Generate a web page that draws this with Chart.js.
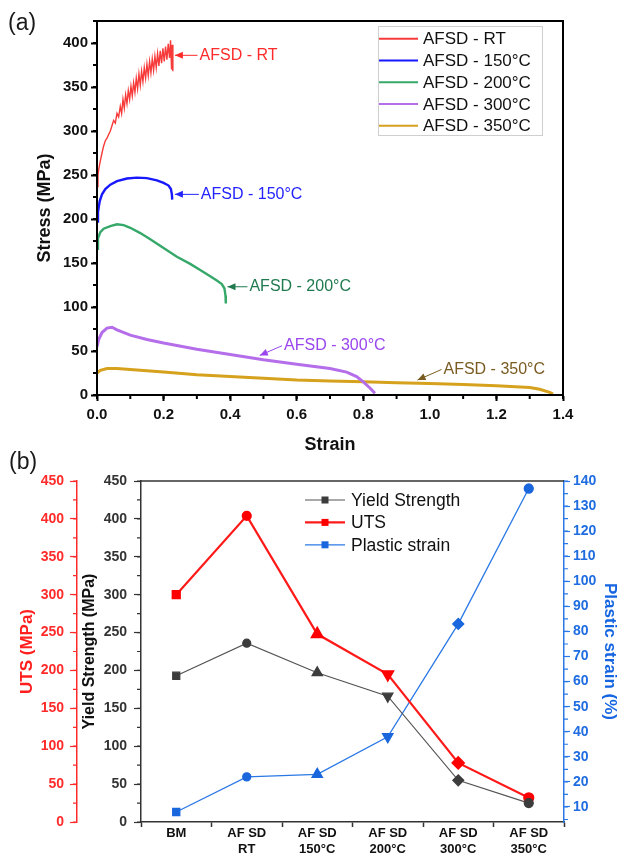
<!DOCTYPE html>
<html>
<head>
<meta charset="utf-8">
<script src="https://cdn.jsdelivr.net/npm/chart.js@4.4.1/dist/chart.umd.min.js"></script>
<style>
  html, body { margin: 0; padding: 0; background: #fff; }
  body { width: 618px; height: 857px; position: relative; overflow: hidden; font-family: Arial, "Liberation Sans", sans-serif; }
  #stressChart { position: absolute; left: 0; top: 0; }
  #propsChart { position: absolute; left: 0; top: 440px; }
  .panel-tag { position: absolute; font-size: 23px; line-height: 1; color: #1a1a1a; }
</style>
</head>
<body>
<canvas id="stressChart" width="618" height="460"></canvas>
<canvas id="propsChart" width="618" height="417"></canvas>
<div class="panel-tag" style="left:8px; top:11px;">(a)</div>
<div class="panel-tag" style="left:9px; top:450px;">(b)</div>
<script>
/* (a) stress-strain curves, [strain, stress MPa] */

const curveRT = [
  [0, 237], [0.003, 250], [0.006, 258], [0.01, 266], [0.015, 275], [0.02, 283],
  [0.025, 289], [0.03, 292], [0.035, 296], [0.04, 300], [0.045, 306], [0.05, 312],
  [0.055, 309], [0.06, 320], [0.065, 316], [0.07, 328], [0.074, 320], [0.078, 336],
  [0.082, 326], [0.086, 341], [0.09, 331], [0.094, 346], [0.098, 336], [0.102, 351],
  [0.106, 340], [0.11, 355], [0.114, 344], [0.118, 360], [0.122, 348], [0.126, 365],
  [0.13, 352], [0.134, 368], [0.138, 356], [0.142, 372], [0.146, 360], [0.15, 376],
  [0.154, 363], [0.158, 379], [0.162, 366], [0.166, 382], [0.17, 369], [0.174, 385],
  [0.178, 372], [0.182, 388], [0.186, 374], [0.19, 391], [0.194, 377], [0.198, 394],
  [0.202, 379], [0.206, 396], [0.21, 381], [0.214, 399], [0.218, 383], [0.221, 403],
  [0.224, 370], [0.226, 398], [0.228, 368]
];
const curve150 = [
  [0, 197], [0.003, 208], [0.008, 220], [0.015, 228], [0.025, 234], [0.04, 239],
  [0.06, 243], [0.09, 246], [0.12, 247], [0.15, 246.5], [0.18, 244], [0.2, 241],
  [0.215, 238], [0.222, 234], [0.225, 228], [0.226, 222]
];
const curve200 = [
  [0, 166], [0.003, 178], [0.01, 185], [0.02, 189], [0.04, 192], [0.06, 194],
  [0.08, 193], [0.1, 190], [0.13, 184], [0.16, 177], [0.2, 167], [0.24, 157],
  [0.28, 149], [0.31, 142], [0.34, 135], [0.36, 130], [0.375, 126], [0.383, 121],
  [0.386, 113], [0.387, 104]
];
const curve300 = [
  [0, 55], [0.005, 63], [0.015, 71], [0.03, 76], [0.045, 77], [0.06, 74],
  [0.1, 68], [0.15, 63], [0.2, 59], [0.3, 52], [0.4, 46], [0.5, 40], [0.6, 35],
  [0.7, 30], [0.75, 26], [0.78, 21], [0.8, 15], [0.82, 8], [0.835, 2]
];
const curve350 = [
  [0, 25], [0.01, 28], [0.03, 30], [0.06, 30], [0.1, 29], [0.2, 26], [0.3, 23],
  [0.4, 21], [0.5, 19], [0.6, 17], [0.7, 16], [0.8, 15], [0.9, 14], [1.0, 13],
  [1.1, 12], [1.2, 10.5], [1.3, 8.5], [1.33, 6.5], [1.36, 3], [1.37, 1]
];
const curveLabels = ["AFSD - RT", "AFSD - 150°C", "AFSD - 200°C", "AFSD - 300°C", "AFSD - 350°C"];
const strainTicks = [0, 0.2, 0.4, 0.6, 0.8, 1.0, 1.2, 1.4];
const stressTicks = [0, 50, 100, 150, 200, 250, 300, 350, 400];

/* (b) mechanical properties per condition */

const conditions = ["BM", ["AF SD", "RT"], ["AF SD", "150°C"], ["AF SD", "200°C"], ["AF SD", "300°C"], ["AF SD", "350°C"]];
const yieldStrength = [193, 236, 197, 166, 55, 25];
const utsValues = [300, 404, 248, 195, 78, 32];
const plasticStrain = [8, 22, 23, 38, 83, 137];
const strengthTicks = [0, 50, 100, 150, 200, 250, 300, 350, 400, 450];
const plasticTicks = [10, 20, 30, 40, 50, 60, 70, 80, 90, 100, 110, 120, 130, 140];

const FONT = 'Arial, "Liberation Sans", sans-serif';
Chart.defaults.font.family = FONT;
Chart.defaults.animation = false;

function toPoints(curve) {
  return curve.map(([x, y]) => ({ x: x, y: y }));
}

function useTicks(values) {
  return function (scale) {
    scale.ticks = values.map((v) => ({ value: v }));
  };
}

/* short minor ticks between the major ones */
function minorTickPlugin(specs) {
  return {
    id: "minorTicks",
    afterDraw(chart) {
      const ctx = chart.ctx;
      specs.forEach((m) => {
        const s = chart.scales[m.id];
        ctx.save();
        ctx.strokeStyle = m.color;
        ctx.lineWidth = m.width;
        ctx.beginPath();
        for (let i = 0; i < 200; i++) {
          const v = m.from + i * m.step;
          if (v > s.max + 1e-9) break;
          if (v < s.min - 1e-9) continue;
          const p = s.getPixelForValue(v);
          if (s.position === "bottom") {
            ctx.moveTo(p, s.top);
            ctx.lineTo(p, s.top + m.len);
          } else if (s.position === "left") {
            ctx.moveTo(s.right, p);
            ctx.lineTo(s.right - m.len, p);
          } else {
            ctx.moveTo(s.left, p);
            ctx.lineTo(s.left + m.len, p);
          }
        }
        ctx.stroke();
        ctx.restore();
      });
    },
  };
}

/* ---------- panel (a) ---------- */

const curveColors = ["#f73b3b", "#1818ff", "#35a86a", "#b56ee9", "#d6a11c"];
const curveWidths = [1.4, 2.4, 2.4, 3, 3];

const callouts = [
  { text: "AFSD - RT", color: "#ff2a2a", tip: [0.234, 386], tail: [0.302, 386] },
  { text: "AFSD - 150°C", color: "#2323ff", tip: [0.234, 228], tail: [0.306, 228] },
  { text: "AFSD - 200°C", color: "#1f7a4f", tip: [0.392, 123], tail: [0.452, 123] },
  { text: "AFSD - 300°C", color: "#9a45ee", tip: [0.489, 45], tail: [0.556, 56] },
  { text: "AFSD - 350°C", color: "#7a5c22", tip: [0.963, 17], tail: [1.035, 29] },
];

const panelAExtras = {
  id: "panelAExtras",
  afterDraw(chart) {
    const ctx = chart.ctx;
    const ca = chart.chartArea;
    const xs = chart.scales.x;
    const ys = chart.scales.y;
    ctx.save();

    // frame
    ctx.strokeStyle = "#000";
    ctx.lineWidth = 2;
    ctx.strokeRect(ca.left, ca.top, ca.right - ca.left, ca.bottom - ca.top);

    // callouts with arrows
    ctx.font = "16px " + FONT;
    ctx.textBaseline = "middle";
    ctx.textAlign = "left";
    callouts.forEach((c) => {
      const tx = xs.getPixelForValue(c.tip[0]);
      const ty = ys.getPixelForValue(c.tip[1]);
      const lx = xs.getPixelForValue(c.tail[0]);
      const ly = ys.getPixelForValue(c.tail[1]);
      const ang = Math.atan2(ty - ly, tx - lx);
      ctx.strokeStyle = c.color;
      ctx.fillStyle = c.color;
      ctx.lineWidth = 1;
      ctx.beginPath();
      ctx.moveTo(lx, ly);
      ctx.lineTo(tx, ty);
      ctx.stroke();
      ctx.beginPath();
      ctx.moveTo(tx, ty);
      ctx.lineTo(tx - 8 * Math.cos(ang) + 3.5 * Math.sin(ang), ty - 8 * Math.sin(ang) - 3.5 * Math.cos(ang));
      ctx.lineTo(tx - 8 * Math.cos(ang) - 3.5 * Math.sin(ang), ty - 8 * Math.sin(ang) + 3.5 * Math.cos(ang));
      ctx.closePath();
      ctx.fill();
      ctx.fillText(c.text, lx + 2, ly);
    });

    // legend box
    const bx = ca.right - 185;
    const by = ca.top + 5;
    ctx.fillStyle = "#fff";
    ctx.fillRect(bx, by, 164, 109);
    ctx.strokeStyle = "#cfcfcf";
    ctx.lineWidth = 1;
    ctx.strokeRect(bx + 0.5, by + 0.5, 164, 109);
    ctx.font = "17px " + FONT;
    chart.data.datasets.forEach((ds, i) => {
      const y = by + 12.7 + i * 21.75;
      ctx.strokeStyle = ds.borderColor;
      ctx.lineWidth = 2;
      ctx.beginPath();
      ctx.moveTo(bx + 1, y);
      ctx.lineTo(bx + 40, y);
      ctx.stroke();
      ctx.fillStyle = "#111";
      ctx.fillText(ds.label, bx + 45, y + 1);
    });
    ctx.restore();
  },
};

new Chart(document.getElementById("stressChart"), {
  type: "line",
  data: {
    datasets: [curveRT, curve150, curve200, curve300, curve350].map((c, i) => ({
      label: curveLabels[i],
      data: toPoints(c),
      borderColor: curveColors[i],
      borderWidth: curveWidths[i],
      pointRadius: 0,
      tension: 0,
    })),
  },
  options: {
    responsive: false,
    animation: false,
    layout: { padding: { left: 0, right: 55, top: 21, bottom: 0 } },
    plugins: { legend: { display: false }, tooltip: { enabled: false } },
    scales: {
      x: {
        type: "linear",
        position: "bottom",
        min: 0,
        max: 1.4,
        bounds: "data",
        afterBuildTicks: useTicks(strainTicks),
        afterFit: (s) => { s.height = 65; },
        border: { color: "#000", width: 2 },
        grid: { drawOnChartArea: false, tickLength: 6, tickColor: "#000", tickWidth: 2 },
        ticks: {
          color: "#111",
          padding: 5,
          font: { size: 15, weight: "bold" },
          callback: (v) => Number(v).toFixed(1),
        },
        title: {
          display: true,
          text: "Strain",
          color: "#111",
          font: { size: 18, weight: "bold", lineHeight: 1 },
          padding: { top: 0, bottom: 6 },
        },
      },
      y: {
        type: "linear",
        position: "left",
        min: 0,
        max: 425,
        bounds: "data",
        afterBuildTicks: useTicks(stressTicks),
        afterFit: (s) => { s.width = 97; },
        border: { color: "#000", width: 2 },
        grid: { drawOnChartArea: false, tickLength: 6, tickColor: "#000", tickWidth: 2 },
        ticks: { color: "#111", padding: 3, font: { size: 15, weight: "bold" } },
        title: {
          display: true,
          text: "Stress (MPa)",
          color: "#111",
          font: { size: 18, weight: "bold", lineHeight: 1 },
          padding: { top: 36, bottom: 0 },
        },
      },
    },
  },
  plugins: [
    minorTickPlugin([
      { id: "x", from: 0, step: 0.1, len: 4, color: "#000", width: 2 },
      { id: "y", from: 0, step: 25, len: 4, color: "#000", width: 2 },
    ]),
    panelAExtras,
  ],
});

/* ---------- panel (b) ---------- */

const markerShapes = ["rect", "circle", "triangle", "triangle", "rectRot", "circle"];
const markerTurns = [0, 0, 0, 180, 0, 0];
const markerSizes = [5, 4, 6, 6, 5.5, 4.5];

const panelBExtras = {
  id: "panelBExtras",
  afterDraw(chart) {
    const ctx = chart.ctx;
    const ca = chart.chartArea;
    ctx.save();
    ctx.strokeStyle = "#333";
    ctx.lineWidth = 1.5;
    ctx.beginPath();
    ctx.moveTo(ca.left, ca.top);
    ctx.lineTo(ca.right, ca.top);
    ctx.stroke();

    // legend
    ctx.font = "17.5px " + FONT;
    ctx.textBaseline = "middle";
    ctx.textAlign = "left";
    chart.data.datasets.forEach((ds, i) => {
      const y = ca.top + 19 + i * 22.4;
      ctx.strokeStyle = ds.borderColor;
      ctx.lineWidth = ds.borderWidth;
      ctx.beginPath();
      ctx.moveTo(305, y);
      ctx.lineTo(345, y);
      ctx.stroke();
      ctx.fillStyle = ds.pointBackgroundColor;
      ctx.fillRect(321.5, y - 3.5, 7, 7);
      ctx.fillStyle = "#111";
      ctx.fillText(ds.label, 351, y + 1);
    });
    ctx.restore();
  },
};

new Chart(document.getElementById("propsChart"), {
  type: "line",
  data: {
    labels: conditions,
    datasets: [
      {
        label: "Yield Strength",
        data: yieldStrength,
        yAxisID: "y",
        borderColor: "#555555",
        borderWidth: 1.2,
        pointBackgroundColor: "#3c3c3c",
        pointBorderColor: "#3c3c3c",
        pointStyle: markerShapes,
        pointRotation: markerTurns,
        pointRadius: markerSizes,
        tension: 0,
      },
      {
        label: "UTS",
        data: utsValues,
        yAxisID: "yUTS",
        borderColor: "#ff1a1a",
        borderWidth: 2.2,
        pointBackgroundColor: "#ff0000",
        pointBorderColor: "#ff0000",
        pointStyle: markerShapes,
        pointRotation: markerTurns,
        pointRadius: markerSizes,
        tension: 0,
      },
      {
        label: "Plastic strain",
        data: plasticStrain,
        yAxisID: "yPS",
        borderColor: "#2a78e6",
        borderWidth: 1.3,
        pointBackgroundColor: "#1a66dd",
        pointBorderColor: "#1a66dd",
        pointStyle: markerShapes,
        pointRotation: markerTurns,
        pointRadius: markerSizes,
        tension: 0,
      },
    ],
  },
  options: {
    responsive: false,
    animation: false,
    layout: { padding: { left: 0, right: 0, top: 41, bottom: 0 } },
    plugins: { legend: { display: false }, tooltip: { enabled: false } },
    scales: {
      x: {
        type: "category",
        offset: true,
        afterFit: (s) => { s.height = 35; },
        border: { color: "#333", width: 1.5 },
        grid: { offset: true, drawOnChartArea: false, tickLength: 5, tickColor: "#333", tickWidth: 1.5 },
        ticks: {
          color: "#111",
          padding: -1,
          maxRotation: 0,
          autoSkip: false,
          font: { size: 13, weight: "bold", lineHeight: 1.2 },
        },
      },
      y: {
        type: "linear",
        position: "left",
        weight: 0,
        min: 0,
        max: 450,
        bounds: "data",
        afterBuildTicks: useTicks(strengthTicks),
        afterFit: (s) => { s.width = 64; },
        border: { color: "#333", width: 1.5 },
        grid: { drawOnChartArea: false, tickLength: 7, tickColor: "#333", tickWidth: 1.2 },
        ticks: { color: "#333", padding: 7, font: { size: 14, weight: "bold" } },
        title: {
          display: true,
          text: "Yield Strength (MPa)",
          color: "#111",
          font: { size: 16, weight: "bold", lineHeight: 1 },
          padding: { top: 5, bottom: 0 },
        },
      },
      yUTS: {
        type: "linear",
        position: "left",
        weight: 1,
        min: 0,
        max: 450,
        bounds: "data",
        afterBuildTicks: useTicks(strengthTicks),
        afterFit: (s) => { s.width = 77; },
        border: { color: "#ff2a2a", width: 1.5 },
        grid: { drawOnChartArea: false, tickLength: 7, tickColor: "#ff2a2a", tickWidth: 1.2 },
        ticks: { color: "#ff2a2a", padding: 6, font: { size: 14, weight: "bold" } },
        title: {
          display: true,
          text: "UTS (MPa)",
          color: "#ff1f1f",
          font: { size: 17, weight: "bold", lineHeight: 1 },
          padding: { top: 19, bottom: 0 },
        },
      },
      yPS: {
        type: "linear",
        position: "right",
        min: 4,
        max: 140,
        bounds: "data",
        afterBuildTicks: useTicks(plasticTicks),
        afterFit: (s) => { s.width = 54; },
        border: { color: "#2a78e6", width: 1.5 },
        grid: { drawOnChartArea: false, tickLength: 6, tickColor: "#2a78e6", tickWidth: 1.2 },
        ticks: { color: "#1f6de0", padding: 3, font: { size: 14, weight: "bold" } },
        title: {
          display: true,
          text: "Plastic strain (%)",
          color: "#1565e0",
          font: { size: 17, weight: "bold", lineHeight: 1 },
          padding: { top: 0, bottom: 0 },
        },
      },
    },
  },
  plugins: [
    minorTickPlugin([
      { id: "y", from: 0, step: 25, len: 4, color: "#333", width: 1.2 },
      { id: "yUTS", from: 0, step: 25, len: 4, color: "#ff2a2a", width: 1.2 },
      { id: "yPS", from: 5, step: 5, len: 4, color: "#2a78e6", width: 1.2 },
    ]),
    panelBExtras,
  ],
});
</script>
</body>
</html>
